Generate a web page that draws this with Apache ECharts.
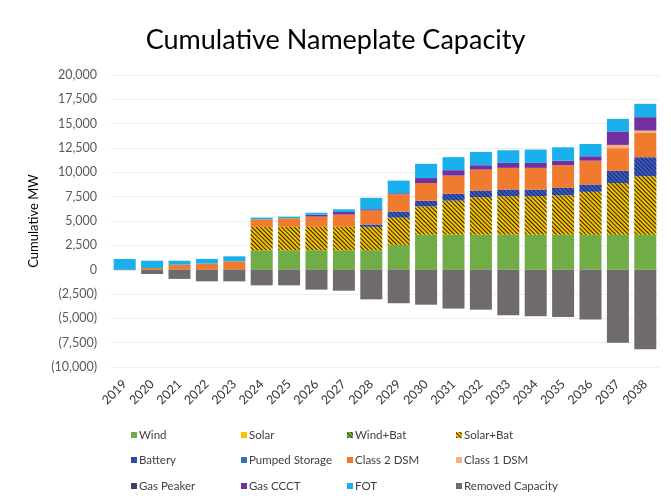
<!DOCTYPE html>
<html>
<head>
<meta charset="utf-8">
<script src="https://cdn.jsdelivr.net/npm/echarts@6/dist/echarts.min.js"></script>
<style>
html,body{margin:0;padding:0;background:#fff;}
#c{width:671px;height:502px;}
</style>
</head>
<body>
<div id="c"></div>
<script>
var years = ['2019','2020','2021','2022','2023','2024','2025','2026','2027','2028','2029','2030','2031','2032','2033','2034','2035','2036','2037','2038'];
var wind      = [0,0,0,0,0,2000,2000,2000,2000,2000,2550,3600,3600,3600,3600,3600,3600,3600,3600,3600];
var solar     = [0,0,0,0,0,0,0,0,0,0,0,0,0,0,0,0,0,0,0,0];
var windBat   = [0,0,0,0,0,0,0,0,0,0,0,0,0,0,0,0,0,0,0,0];
var solarBat  = [0,0,0,0,0,2400,2400,2400,2400,2400,2800,2900,3500,3850,3950,3950,4050,4400,5300,6000];
var battery   = [0,0,0,0,0,0,0,0,0,240,620,580,690,680,680,680,750,750,1250,1950];
var pumped    = [0,0,0,0,0,0,0,0,0,0,0,0,0,0,0,0,0,0,0,0];
var dsm2      = [0,170,510,620,860,780,880,1050,1260,1440,1780,1820,1880,2150,2230,2230,2330,2450,2330,2500];
var dsm1      = [0,0,0,0,0,0,0,0,0,0,0,0,0,0,0,0,0,0,340,240];
var gasPeaker = [0,0,0,0,0,0,0,0,0,0,0,0,0,0,0,0,0,0,0,0];
var gasCCCT   = [0,0,0,0,0,0,0,200,270,130,100,510,550,450,510,510,470,450,1380,1380];
var fot       = [1100,750,410,480,510,170,170,200,270,1170,1300,1470,1340,1370,1300,1370,1370,1260,1290,1370];
var removed   = [-50,-450,-950,-1200,-1200,-1610,-1610,-2050,-2160,-3050,-3450,-3600,-4000,-4110,-4690,-4790,-4860,-5130,-7500,-8180];
var yTicks = {min:-10000, max:20000, step:2500};

var FONT = 'Lato';
function hatch(col){
  return {symbol:'rect', color:col, dashArrayX:[1,0], dashArrayY:[1,1.6], rotation:Math.PI/4, symbolSize:1};
}
function s(name, data, color, decal){
  var st = {color: color};
  if (decal) st.decal = decal;
  return {name:name, type:'bar', stack:'a', data:data, barWidth:22, itemStyle:st, emphasis:{disabled:true}};
}
var series = [
  s('Wind', wind, '#70AD47'),
  s('Solar', solar, '#FFC000'),
  s('Wind+Bat', windBat, '#70AD47', hatch('rgba(40,60,20,0.9)')),
  s('Solar+Bat', solarBat, '#F5C000', hatch('rgba(20,20,20,0.9)')),
  s('Battery', battery, '#3A5BC0', hatch('rgba(25,30,90,0.85)')),
  s('Pumped Storage', pumped, '#2E75B6'),
  s('Class 2 DSM', dsm2, '#F07A2E'),
  s('Class 1 DSM', dsm1, '#F4B183'),
  s('Gas Peaker', gasPeaker, '#3F3D6B'),
  s('Gas CCCT', gasCCCT, '#7030A0'),
  s('FOT', fot, '#1AB0EC'),
  s('Removed Capacity', removed, '#6F6B6B')
];
var names = series.map(function(x){return x.name;});
var colX = [131, 241, 347, 456];
var rowY = [429, 454, 480];
var legends = names.map(function(n, i){
  return {
    data:[n], left:colX[i % 4], top:rowY[Math.floor(i / 4)], orient:'horizontal',
    itemWidth:6, itemHeight:6, itemGap:0, icon:'rect', selectedMode:false, padding:0,
    textStyle:{fontFamily:FONT, fontSize:11.5, color:'#404040', padding:[0,0,0,-3]}
  };
});
var chart = echarts.init(document.getElementById('c'), null, {renderer:'canvas'});
chart.setOption({
  animation:false,
  backgroundColor:'#fff',
  title:{text:'Cumulative Nameplate Capacity', left:'center', top:22,
    textStyle:{fontFamily:FONT, fontSize:27, fontWeight:'normal', color:'#000'}},
  grid:{left:111, right:12, top:75, bottom:135},
  legend:legends,
  xAxis:{type:'category', data:years, position:'bottom',
    axisLine:{show:false, onZero:false}, axisTick:{show:false},
    axisLabel:{rotate:45, interval:0, fontFamily:FONT, fontSize:12.5, color:'#333333', margin:15}},
  yAxis:{type:'value', min:yTicks.min, max:yTicks.max, interval:yTicks.step,
    name:'Cumulative MW', nameLocation:'middle', nameGap:64, nameRotate:90,
    nameTextStyle:{fontFamily:FONT, fontSize:13, color:'#000'},
    axisLine:{show:false}, axisTick:{show:false},
    splitLine:{lineStyle:{color:'#eeeeee'}},
    axisLabel:{fontFamily:FONT, fontSize:12.5, color:'#595959', margin:14,
      formatter:function(v){
        var a = Math.abs(v).toLocaleString('en-US');
        return v < 0 ? '(' + a + ')' : a;
      }}},
  series:series
});
</script>
</body>
</html>
